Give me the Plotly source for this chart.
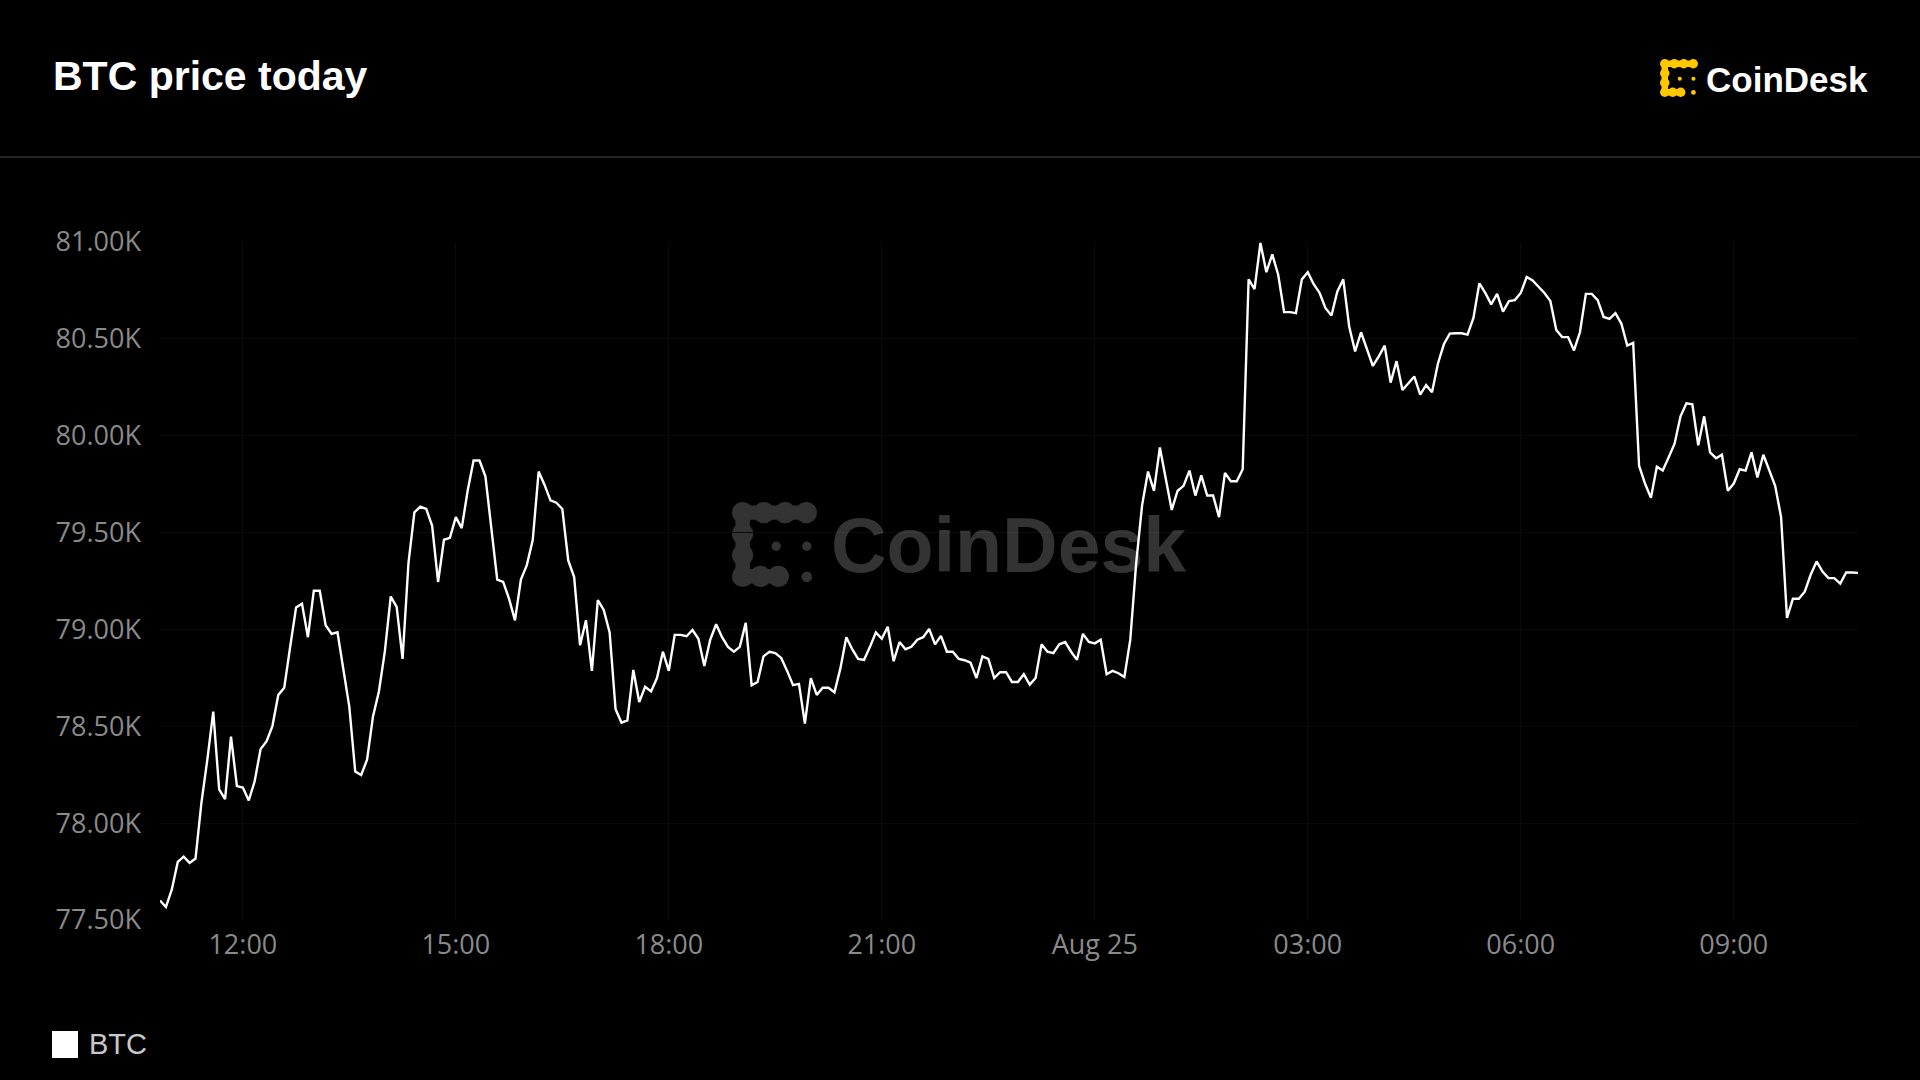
import pandas as pd
import plotly.graph_objects as go

# ---------------- data ----------------
start_time = "2025-08-24 10:50"
interval = "5min"
btc_prices = [
    77601, 77567, 77658, 77800, 77827, 77795, 77817, 78105, 78328, 78576,
    78174, 78124, 78447, 78191, 78184, 78117, 78216, 78382, 78422, 78501,
    78662, 78699, 78910, 79113, 79133, 78960, 79200, 79200, 79022, 78977,
    78985, 78786, 78600, 78266, 78248, 78328, 78551, 78680, 78885, 79170,
    79116, 78848, 79344, 79604, 79634, 79622, 79535, 79245, 79463, 79473,
    79580, 79523, 79716, 79872, 79872, 79790, 79518, 79257, 79245, 79158,
    79047, 79257, 79332, 79461, 79815, 79746, 79666, 79654, 79622, 79356,
    79270, 78918, 79047, 78786,
    79151, 79101, 78985, 78588, 78519, 78531, 78791, 78625, 78704, 78680,
    78749, 78885, 78786, 78972, 78972, 78965, 78997, 78952, 78811, 78947,
    79027, 78960, 78910, 78885, 78910, 79034, 78712, 78729, 78861, 78885,
    78878, 78853, 78786, 78712, 78719, 78514, 78749, 78662, 78699, 78699,
    78675, 78799, 78960, 78898, 78848, 78843, 78910, 78985, 78952, 79014,
    78836, 78935, 78898, 78910, 78947, 78960, 79002, 78923, 78967, 78885,
    78885, 78848, 78841, 78828, 78749, 78861, 78848, 78749, 78779, 78779,
    78729,
    78729, 78769, 78715, 78749, 78923, 78885, 78878, 78923, 78935, 78885,
    78843, 78977, 78935, 78928, 78947, 78769, 78786, 78774, 78754, 78947,
    79344, 79642, 79815, 79716, 79939, 79778, 79617, 79716, 79741, 79820,
    79691, 79795, 79691, 79691, 79580, 79808, 79765, 79765, 79827, 80807,
    80757, 80995, 80844, 80936, 80831, 80638, 80638, 80633, 80807, 80844,
    80782, 80737, 80658, 80621, 80745, 80807, 80564, 80435, 80534, 80447,
    80360, 80410, 80465, 80274, 80385, 80236, 80274, 80306, 80212, 80261,
    80224, 80373, 80472, 80527,
    80529, 80529, 80522, 80608, 80787, 80737, 80678, 80732, 80641, 80695,
    80700, 80737, 80819, 80802, 80769, 80737, 80695, 80546, 80509, 80509,
    80440, 80534, 80732, 80732, 80700, 80613, 80603, 80633, 80579, 80465,
    80479, 79845, 79753, 79679, 79840, 79820, 79889, 79959, 80100, 80167,
    80162, 79951, 80100, 79914, 79884, 79902, 79716, 79753, 79827, 79820,
    79914, 79785, 79902, 79820, 79741, 79580, 79059, 79158, 79158, 79195,
    79282, 79351, 79299, 79265, 79265, 79237, 79294, 79294, 79292,
]
y_tick_values = [77500, 78000, 78500, 79000, 79500, 80000, 80500, 81000]
y_tick_labels = ["77.50K", "78.00K", "78.50K", "79.00K", "79.50K", "80.00K", "80.50K", "81.00K"]
x_tick_values = ["2025-08-24 12:00", "2025-08-24 15:00", "2025-08-24 18:00", "2025-08-24 21:00",
                 "2025-08-25 00:00", "2025-08-25 03:00", "2025-08-25 06:00", "2025-08-25 09:00"]
x_tick_labels = ["12:00", "15:00", "18:00", "21:00", "Aug 25", "03:00", "06:00", "09:00"]
title_text = "BTC price today"
series_name = "BTC"
brand_text = "CoinDesk"

times = pd.date_range(start=start_time, periods=len(btc_prices), freq=interval)

# ---------------- layout geometry (pixels) ----------------
W, H = 1920, 1080
ML, MR, MT, MB = 160, 62, 242, 160
PW, PH = W - ML - MR, H - MT - MB


def px(x):
    return (x - ML) / PW


def py(y):
    return 1 - (y - MT) / PH


fig = go.Figure()
fig.add_trace(go.Scatter(
    x=times, y=btc_prices, mode="lines", name=series_name,
    line=dict(color="#ffffff", width=2.4), showlegend=False,
))

shapes = []
annotations = []


def circle(cx, cy, r, color, layer):
    shapes.append(dict(type="circle", xref="paper", yref="paper",
                       x0=px(cx - r), x1=px(cx + r), y0=py(cy + r), y1=py(cy - r),
                       fillcolor=color, line=dict(width=0), layer=layer))


def rect(x0, y0, x1, y1, color, layer):
    shapes.append(dict(type="rect", xref="paper", yref="paper",
                       x0=px(x0), x1=px(x1), y0=py(y1), y1=py(y0),
                       fillcolor=color, line=dict(width=0), layer=layer))


def icon(x0, y0, s, color, layer):
    r = 0.125
    nodes = [(0.125, 0.125), (0.375, 0.125), (0.625, 0.125), (0.875, 0.125),
             (0.125, 0.375), (0.125, 0.625), (0.125, 0.875),
             (0.335, 0.875), (0.545, 0.875)]
    for (u, v) in nodes:
        circle(x0 + u * s, y0 + v * s, r * s, color, layer)
    t = 0.085
    rect(x0 + 0.125 * s, y0 + (0.125 - t) * s, x0 + 0.875 * s, y0 + (0.125 + t) * s, color, layer)
    rect(x0 + (0.125 - t) * s, y0 + 0.125 * s, x0 + (0.125 + t) * s, y0 + 0.875 * s, color, layer)
    rect(x0 + 0.125 * s, y0 + (0.875 - t) * s, x0 + 0.545 * s, y0 + (0.875 + t) * s, color, layer)
    circle(x0 + 0.52 * s, y0 + 0.52 * s, 0.055 * s, color, layer)
    circle(x0 + 0.88 * s, y0 + 0.52 * s, 0.055 * s, color, layer)
    circle(x0 + 0.88 * s, y0 + 0.88 * s, 0.063 * s, color, layer)


# separator line under header
shapes.append(dict(type="line", xref="paper", yref="paper", x0=px(0), x1=px(W),
                   y0=py(157), y1=py(157), line=dict(color="#222222", width=2), layer="above"))

# watermark
icon(732, 502, 85, "#333333", "below")
annotations.append(dict(xref="paper", yref="paper", x=px(829), y=py(545), xanchor="left", yanchor="middle",
                        text="<b>" + brand_text + "</b>", showarrow=False,
                        font=dict(family="Liberation Sans, Arial, sans-serif", size=77, color="rgba(255,255,255,0.2)")))

# header logo
icon(1660, 59, 38, "#FFC700", "above")
annotations.append(dict(xref="paper", yref="paper", x=px(1704), y=py(79), xanchor="left", yanchor="middle",
                        text="<b>" + brand_text + "</b>", showarrow=False,
                        font=dict(family="Liberation Sans, Arial, sans-serif", size=35, color="#ffffff")))

# title
annotations.append(dict(xref="paper", yref="paper", x=px(51), y=py(76), xanchor="left", yanchor="middle",
                        text="<b>" + title_text + "</b>", showarrow=False,
                        font=dict(family="Liberation Sans, Arial, sans-serif", size=41, color="#ffffff")))

# legend
rect(52, 1031, 78, 1058, "#ffffff", "above")
annotations.append(dict(xref="paper", yref="paper", x=px(87), y=py(1044), xanchor="left", yanchor="middle",
                        text=series_name, showarrow=False,
                        font=dict(family="Liberation Sans, Arial, sans-serif", size=29, color="#c8c8c8")))

fig.update_layout(
    width=W, height=H, autosize=False,
    margin=dict(l=ML, r=MR, t=MT, b=MB, pad=0),
    paper_bgcolor="#000000", plot_bgcolor="#000000",
    shapes=shapes, annotations=annotations,
    showlegend=False,
    font=dict(family="Open Sans, sans-serif", color="#8a8a8a"),
)
fig.update_xaxes(
    range=[times[0], times[-1]],
    tickvals=x_tick_values, ticktext=x_tick_labels,
    tickfont=dict(family="Open Sans, sans-serif", size=27, color="#8a8a8a"),
    showgrid=True, gridcolor="#0a0a0a", gridwidth=1,
    zeroline=False, showline=False, ticks="", ticklabelstandoff=6,
)
fig.update_yaxes(
    range=[77500, 81000],
    tickvals=y_tick_values, ticktext=y_tick_labels,
    tickfont=dict(family="Open Sans, sans-serif", size=27, color="#8a8a8a"),
    showgrid=True, gridcolor="#0a0a0a", gridwidth=1,
    zeroline=False, showline=False, ticks="", ticklabelstandoff=18,
)

fig.write_html(
    "out.html",
    config={"displayModeBar": False},
    post_script="document.body.style.margin='0';document.body.style.background='#000';"
                "document.body.style.overflow='hidden';",
)
